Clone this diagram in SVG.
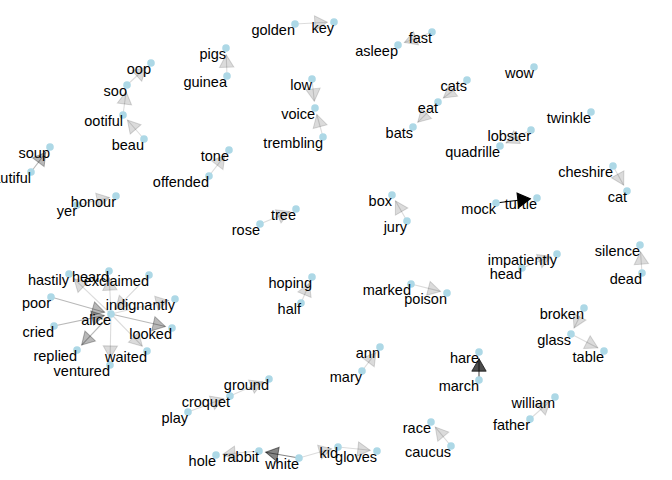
<svg xmlns="http://www.w3.org/2000/svg" width="672" height="480" viewBox="0 0 672 480">
<style>
.e{fill:none;stroke:#000;stroke-width:1.1}
.a1{stroke-opacity:.14;marker-end:url(#m1)}
.a2{stroke-opacity:.28;marker-end:url(#m2)}
.a3{stroke-opacity:.48;marker-end:url(#m3)}
.a4{stroke-opacity:.7;marker-end:url(#m4)}
.a5{stroke-opacity:1;marker-end:url(#m5)}
.n circle{fill:#ADD8E6}
.n text{font-family:"Liberation Sans",Arial,sans-serif;font-size:14.5px;fill:#000;text-anchor:end}
</style>
<defs>
<marker id="m1" markerUnits="userSpaceOnUse" orient="auto" refX="0" refY="0" viewBox="-14 -8 15 16" markerWidth="15" markerHeight="16" overflow="visible"><path d="M0,0 L-12.5,-7.2 L-12.5,7.2 Z" fill="#000" fill-opacity=".14" stroke="#000" stroke-opacity=".14"/></marker>
<marker id="m2" markerUnits="userSpaceOnUse" orient="auto" refX="0" refY="0" viewBox="-14 -8 15 16" markerWidth="15" markerHeight="16" overflow="visible"><path d="M0,0 L-12.5,-7.2 L-12.5,7.2 Z" fill="#000" fill-opacity=".28" stroke="#000" stroke-opacity=".28"/></marker>
<marker id="m3" markerUnits="userSpaceOnUse" orient="auto" refX="0" refY="0" viewBox="-14 -8 15 16" markerWidth="15" markerHeight="16" overflow="visible"><path d="M0,0 L-12.5,-7.2 L-12.5,7.2 Z" fill="#000" fill-opacity=".48" stroke="#000" stroke-opacity=".48"/></marker>
<marker id="m4" markerUnits="userSpaceOnUse" orient="auto" refX="0" refY="0" viewBox="-14 -8 15 16" markerWidth="15" markerHeight="16" overflow="visible"><path d="M0,0 L-12.5,-7.2 L-12.5,7.2 Z" fill="#000" fill-opacity=".7" stroke="#000" stroke-opacity=".7"/></marker>
<marker id="m5" markerUnits="userSpaceOnUse" orient="auto" refX="0" refY="0" viewBox="-14 -8 15 16" markerWidth="15" markerHeight="16" overflow="visible"><path d="M0,0 L-12.5,-7.2 L-12.5,7.2 Z" fill="#000" stroke="#000"/></marker>
</defs>
<rect width="672" height="480" fill="#fff"/>
<g id="edges">
<line class="e a1" x1="227" y1="76" x2="226.2" y2="54.7"/>
<line class="e a1" x1="127" y1="85" x2="146.1" y2="67.5"/>
<line class="e a1" x1="123" y1="115" x2="126.1" y2="91.6"/>
<line class="e a1" x1="144" y1="139" x2="127.4" y2="120"/>
<line class="e a2" x1="31" y1="172" x2="45.9" y2="152.3"/>
<line class="e a1" x1="209" y1="176" x2="224.9" y2="155.3"/>
<line class="e a1" x1="77" y1="205" x2="109.5" y2="197.5"/>
<line class="e a1" x1="295" y1="24" x2="327.3" y2="22.3"/>
<line class="e a1" x1="432" y1="32" x2="404.3" y2="42.6"/>
<line class="e a1" x1="312" y1="79" x2="314.3" y2="101.3"/>
<line class="e a1" x1="323" y1="137" x2="316.8" y2="114.5"/>
<line class="e a1" x1="467" y1="80" x2="443.3" y2="98"/>
<line class="e a1" x1="438" y1="102" x2="417.7" y2="122.3"/>
<line class="e a1" x1="531" y1="130" x2="506" y2="142.9"/>
<line class="e a1" x1="613" y1="166" x2="623.7" y2="185.2"/>
<line class="e a5" x1="496" y1="203" x2="530.3" y2="198.8"/>
<line class="e a1" x1="260" y1="224" x2="289.8" y2="211.6"/>
<line class="e a1" x1="407" y1="221" x2="395.4" y2="200.8"/>
<line class="e a1" x1="111" y1="314" x2="73.9" y2="278.6"/>
<line class="e a1" x1="111" y1="314" x2="109.3" y2="277.7"/>
<line class="e a1" x1="149" y1="275" x2="115.7" y2="309.2"/>
<line class="e a1" x1="111" y1="314" x2="168.5" y2="300.5"/>
<line class="e a2" x1="51" y1="297" x2="104.6" y2="312.2"/>
<line class="e a2" x1="54" y1="326" x2="104.4" y2="315.4"/>
<line class="e a2" x1="111" y1="314" x2="165.5" y2="326.5"/>
<line class="e a2" x1="111" y1="314" x2="81.6" y2="345.1"/>
<line class="e a1" x1="111" y1="314" x2="142.3" y2="346.2"/>
<line class="e a1" x1="111" y1="314" x2="110.1" y2="358.3"/>
<line class="e a1" x1="301" y1="303" x2="309.4" y2="283.2"/>
<line class="e a1" x1="411" y1="284" x2="440.5" y2="291.4"/>
<line class="e a1" x1="522" y1="268" x2="550.8" y2="256.5"/>
<line class="e a1" x1="642" y1="273" x2="640.5" y2="251.7"/>
<line class="e a1" x1="584" y1="308" x2="574" y2="328"/>
<line class="e a1" x1="571" y1="334" x2="598" y2="347.9"/>
<line class="e a1" x1="362" y1="371" x2="376" y2="352.4"/>
<line class="e a4" x1="479" y1="380" x2="479" y2="358.7"/>
<line class="e a1" x1="230" y1="396" x2="262.9" y2="381.7"/>
<line class="e a1" x1="188" y1="412" x2="223.7" y2="398.4"/>
<line class="e a1" x1="530" y1="419" x2="550" y2="401.4"/>
<line class="e a1" x1="451" y1="446" x2="435.3" y2="427.1"/>
<line class="e a1" x1="259" y1="451" x2="222.7" y2="454.4"/>
<line class="e a3" x1="299" y1="458" x2="265.6" y2="452.2"/>
<line class="e a1" x1="299" y1="458" x2="331.6" y2="448.8"/>
<line class="e a1" x1="338" y1="447" x2="370.3" y2="450.3"/>
</g>
<g id="nodes">
<g id="n-pigs" class="n"><circle cx="226" cy="48" r="3.8"/><text x="226" y="59">pigs</text></g>
<g id="n-guinea" class="n"><circle cx="227" cy="76" r="3.8"/><text x="227" y="87">guinea</text></g>
<g id="n-oop" class="n"><circle cx="151" cy="63" r="3.8"/><text x="151" y="74">oop</text></g>
<g id="n-soo" class="n"><circle cx="127" cy="85" r="3.8"/><text x="127" y="96">soo</text></g>
<g id="n-ootiful" class="n"><circle cx="123" cy="115" r="3.8"/><text x="123" y="126">ootiful</text></g>
<g id="n-beau" class="n"><circle cx="144" cy="139" r="3.8"/><text x="144" y="150">beau</text></g>
<g id="n-soup" class="n"><circle cx="50" cy="147" r="3.8"/><text x="50" y="158">soup</text></g>
<g id="n-beautiful" class="n"><circle cx="31" cy="172" r="3.8"/><text x="31" y="183">beautiful</text></g>
<g id="n-tone" class="n"><circle cx="229" cy="150" r="3.8"/><text x="229" y="161">tone</text></g>
<g id="n-offended" class="n"><circle cx="209" cy="176" r="3.8"/><text x="209" y="187">offended</text></g>
<g id="n-yer" class="n"><circle cx="77" cy="205" r="3.8"/><text x="77" y="216">yer</text></g>
<g id="n-honour" class="n"><circle cx="116" cy="196" r="3.8"/><text x="116" y="207">honour</text></g>
<g id="n-golden" class="n"><circle cx="295" cy="24" r="3.8"/><text x="295" y="35">golden</text></g>
<g id="n-key" class="n"><circle cx="334" cy="22" r="3.8"/><text x="334" y="33">key</text></g>
<g id="n-asleep" class="n"><circle cx="398" cy="45" r="3.8"/><text x="398" y="56">asleep</text></g>
<g id="n-fast" class="n"><circle cx="432" cy="32" r="3.8"/><text x="432" y="43">fast</text></g>
<g id="n-low" class="n"><circle cx="312" cy="79" r="3.8"/><text x="312" y="90">low</text></g>
<g id="n-voice" class="n"><circle cx="315" cy="108" r="3.8"/><text x="315" y="119">voice</text></g>
<g id="n-trembling" class="n"><circle cx="323" cy="137" r="3.8"/><text x="323" y="148">trembling</text></g>
<g id="n-cats" class="n"><circle cx="467" cy="80" r="3.8"/><text x="467" y="91">cats</text></g>
<g id="n-eat" class="n"><circle cx="438" cy="102" r="3.8"/><text x="438" y="113">eat</text></g>
<g id="n-bats" class="n"><circle cx="413" cy="127" r="3.8"/><text x="413" y="138">bats</text></g>
<g id="n-wow" class="n"><circle cx="534" cy="67" r="3.8"/><text x="534" y="78">wow</text></g>
<g id="n-twinkle" class="n"><circle cx="591" cy="112" r="3.8"/><text x="591" y="123">twinkle</text></g>
<g id="n-lobster" class="n"><circle cx="531" cy="130" r="3.8"/><text x="531" y="141">lobster</text></g>
<g id="n-quadrille" class="n"><circle cx="500" cy="146" r="3.8"/><text x="500" y="157">quadrille</text></g>
<g id="n-cheshire" class="n"><circle cx="613" cy="166" r="3.8"/><text x="613" y="177">cheshire</text></g>
<g id="n-cat" class="n"><circle cx="627" cy="191" r="3.8"/><text x="627" y="202">cat</text></g>
<g id="n-mock" class="n"><circle cx="496" cy="203" r="3.8"/><text x="496" y="214">mock</text></g>
<g id="n-turtle" class="n"><circle cx="537" cy="198" r="3.8"/><text x="537" y="209">turtle</text></g>
<g id="n-rose" class="n"><circle cx="260" cy="224" r="3.8"/><text x="260" y="235">rose</text></g>
<g id="n-tree" class="n"><circle cx="296" cy="209" r="3.8"/><text x="296" y="220">tree</text></g>
<g id="n-box" class="n"><circle cx="392" cy="195" r="3.8"/><text x="392" y="206">box</text></g>
<g id="n-jury" class="n"><circle cx="407" cy="221" r="3.8"/><text x="407" y="232">jury</text></g>
<g id="n-hastily" class="n"><circle cx="69" cy="274" r="3.8"/><text x="69" y="285">hastily</text></g>
<g id="n-heard" class="n"><circle cx="109" cy="271" r="3.8"/><text x="109" y="282">heard</text></g>
<g id="n-exclaimed" class="n"><circle cx="149" cy="275" r="3.8"/><text x="149" y="286">exclaimed</text></g>
<g id="n-alice" class="n"><circle cx="111" cy="314" r="3.8"/><text x="111" y="325">alice</text></g>
<g id="n-indignantly" class="n"><circle cx="175" cy="299" r="3.8"/><text x="175" y="310">indignantly</text></g>
<g id="n-poor" class="n"><circle cx="51" cy="297" r="3.8"/><text x="51" y="308">poor</text></g>
<g id="n-cried" class="n"><circle cx="54" cy="326" r="3.8"/><text x="54" y="337">cried</text></g>
<g id="n-looked" class="n"><circle cx="172" cy="328" r="3.8"/><text x="172" y="339">looked</text></g>
<g id="n-replied" class="n"><circle cx="77" cy="350" r="3.8"/><text x="77" y="361">replied</text></g>
<g id="n-ventured" class="n"><circle cx="110" cy="365" r="3.8"/><text x="110" y="376">ventured</text></g>
<g id="n-waited" class="n"><circle cx="147" cy="351" r="3.8"/><text x="147" y="362">waited</text></g>
<g id="n-hoping" class="n"><circle cx="312" cy="277" r="3.8"/><text x="312" y="288">hoping</text></g>
<g id="n-half" class="n"><circle cx="301" cy="303" r="3.8"/><text x="301" y="314">half</text></g>
<g id="n-marked" class="n"><circle cx="411" cy="284" r="3.8"/><text x="411" y="295">marked</text></g>
<g id="n-poison" class="n"><circle cx="447" cy="293" r="3.8"/><text x="447" y="304">poison</text></g>
<g id="n-head" class="n"><circle cx="522" cy="268" r="3.8"/><text x="522" y="279">head</text></g>
<g id="n-impatiently" class="n"><circle cx="557" cy="254" r="3.8"/><text x="557" y="265">impatiently</text></g>
<g id="n-silence" class="n"><circle cx="640" cy="245" r="3.8"/><text x="640" y="256">silence</text></g>
<g id="n-dead" class="n"><circle cx="642" cy="273" r="3.8"/><text x="642" y="284">dead</text></g>
<g id="n-broken" class="n"><circle cx="584" cy="308" r="3.8"/><text x="584" y="319">broken</text></g>
<g id="n-glass" class="n"><circle cx="571" cy="334" r="3.8"/><text x="571" y="345">glass</text></g>
<g id="n-table" class="n"><circle cx="604" cy="351" r="3.8"/><text x="604" y="362">table</text></g>
<g id="n-ann" class="n"><circle cx="380" cy="347" r="3.8"/><text x="380" y="358">ann</text></g>
<g id="n-mary" class="n"><circle cx="362" cy="371" r="3.8"/><text x="362" y="382">mary</text></g>
<g id="n-hare" class="n"><circle cx="479" cy="352" r="3.8"/><text x="479" y="363">hare</text></g>
<g id="n-march" class="n"><circle cx="479" cy="380" r="3.8"/><text x="479" y="391">march</text></g>
<g id="n-croquet" class="n"><circle cx="230" cy="396" r="3.8"/><text x="230" y="407">croquet</text></g>
<g id="n-ground" class="n"><circle cx="269" cy="379" r="3.8"/><text x="269" y="390">ground</text></g>
<g id="n-play" class="n"><circle cx="188" cy="412" r="3.8"/><text x="188" y="423">play</text></g>
<g id="n-william" class="n"><circle cx="555" cy="397" r="3.8"/><text x="555" y="408">william</text></g>
<g id="n-father" class="n"><circle cx="530" cy="419" r="3.8"/><text x="530" y="430">father</text></g>
<g id="n-race" class="n"><circle cx="431" cy="422" r="3.8"/><text x="431" y="433">race</text></g>
<g id="n-caucus" class="n"><circle cx="451" cy="446" r="3.8"/><text x="451" y="457">caucus</text></g>
<g id="n-hole" class="n"><circle cx="216" cy="455" r="3.8"/><text x="216" y="466">hole</text></g>
<g id="n-rabbit" class="n"><circle cx="259" cy="451" r="3.8"/><text x="259" y="462">rabbit</text></g>
<g id="n-white" class="n"><circle cx="299" cy="458" r="3.8"/><text x="299" y="469">white</text></g>
<g id="n-kid" class="n"><circle cx="338" cy="447" r="3.8"/><text x="338" y="458">kid</text></g>
<g id="n-gloves" class="n"><circle cx="377" cy="451" r="3.8"/><text x="377" y="462">gloves</text></g>
</g>
</svg>
